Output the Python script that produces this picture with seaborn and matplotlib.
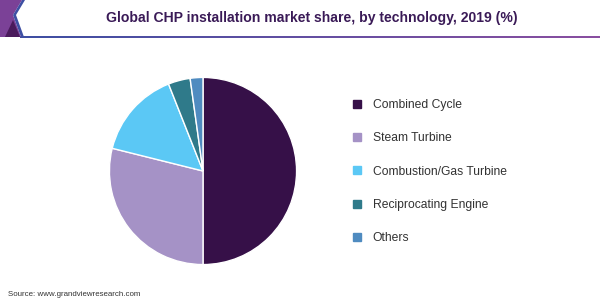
import numpy as np
import matplotlib
matplotlib.use("Agg")
import matplotlib.pyplot as plt
from matplotlib.patches import Polygon
from matplotlib.lines import Line2D
import seaborn as sns

categories = ["Combined Cycle", "Steam Turbine", "Combustion/Gas Turbine",
              "Reciprocating Engine", "Others"]
shares = [50.0, 28.9, 15.1, 3.8, 2.2]
colors = ["#361048", "#A592C6", "#5BC8F5", "#2F7A8A", "#4F8BC0"]
title = "Global CHP installation market share, by technology, 2019 (%)"
source = "Source: www.grandviewresearch.com"

sns.set_theme(style="white")
plt.rcParams["font.family"] = ["Liberation Sans", "DejaVu Sans"]

W, H = 600, 300
fig = plt.figure(figsize=(6, 3), dpi=100)
fig.patch.set_facecolor("white")

# header
fig.text(312 / W, 1 - 18 / H, title, ha="center", va="center",
         fontsize=10.1, fontweight="bold", color="#3A1A57")
lax = fig.add_axes([20 / W, 1 - 38 / H, 580 / W, 2.2 / H])
grad = np.linspace(0, 1, 256).reshape(1, -1)
cmap = matplotlib.colors.LinearSegmentedColormap.from_list("hdr", ["#3E4FA3", "#8A4FA0"])
lax.imshow(grad, aspect="auto", cmap=cmap, extent=[0, 1, 0, 1])
lax.set_axis_off()

def P(pts):
    return [(x / W, 1 - y / H) for x, y in pts]

fig.patches.append(Polygon(P([(0, 0), (22, 0), (13, 15), (21, 37), (0, 37)]),
                           closed=True, transform=fig.transFigure,
                           facecolor="#7B4197", edgecolor="none"))
fig.patches.append(Polygon(P([(22, 0), (25, 0), (16, 15), (24, 37), (21, 37), (13, 15)]),
                           closed=True, transform=fig.transFigure,
                           facecolor="#3E4FA3", edgecolor="none"))
fig.patches.append(Polygon(P([(5, 37), (13, 20), (20, 37)]),
                           closed=True, transform=fig.transFigure,
                           facecolor="#4A1A5C", edgecolor="none"))

# pie
cx, cy, r = 203, 171, 94.5
ax = fig.add_axes([(cx - r) / W, 1 - (cy + r) / H, 2 * r / W, 2 * r / H])
ax.pie(shares, colors=colors, startangle=90, counterclock=False,
       wedgeprops=dict(edgecolor="white", linewidth=1.0))
ax.set_xlim(-1.01, 1.01)
ax.set_ylim(-1.01, 1.01)
ax.set_aspect("equal")
ax.set_axis_off()

handles = [Line2D([], [], marker="s", linestyle="none", markersize=5.5,
                  markerfacecolor=c, markeredgecolor=c) for c in colors]
fig.legend(handles, categories, loc="upper left",
           bbox_to_anchor=(352 / W, 1 - 99 / H), frameon=False,
           fontsize=8.7, labelcolor="#333333", handlelength=0.8,
           handletextpad=0.9, labelspacing=1.76, borderpad=0, borderaxespad=0)

fig.text(8 / W, 1 - 294 / H, source, ha="left", va="center",
         fontsize=5.7, color="#333333")

fig.savefig("out.png", dpi=100, facecolor="white")
